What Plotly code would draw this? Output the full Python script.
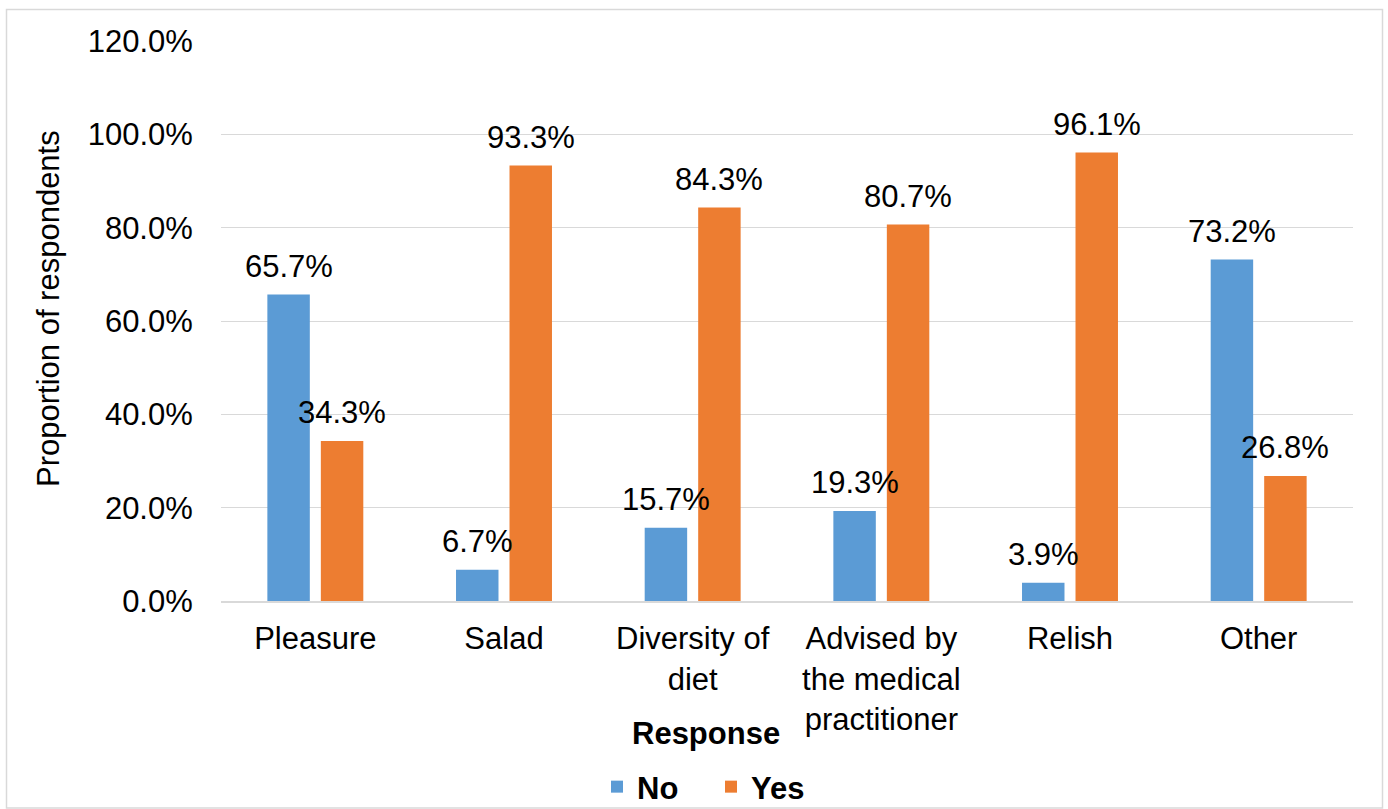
import plotly.graph_objects as go

categories = ["Pleasure", "Salad", "Diversity of<br>diet", "Advised by<br>the medical<br>practitioner", "Relish", "Other"]
no_values = [65.7, 6.7, 15.7, 19.3, 3.9, 73.2]
yes_values = [34.3, 93.3, 84.3, 80.7, 96.1, 26.8]
y_ticks = [0, 20, 40, 60, 80, 100, 120]

FONT = "Arial, Liberation Sans, sans-serif"
FS = 31
BLUE = "#5B9BD5"
ORANGE = "#ED7D31"

L, R, T, B = 221, 35, 41, 208
W, H = 1388, 809
pw, ph = W - L - R, H - T - B

def px_x(px):
    return (px - L) / pw

def px_y(py):
    return (H - B - py) / ph

fig = go.Figure()
fig.add_trace(go.Bar(name="No", x=categories, y=no_values, marker_color=BLUE, marker_line_width=0))
fig.add_trace(go.Bar(name="Yes", x=categories, y=yes_values, marker_color=ORANGE, marker_line_width=0))

annotations = []
for cat, v in zip(categories, no_values):
    annotations.append(dict(x=cat, y=v, xref="x", yref="y", text=f"{v:.1f}%", showarrow=False,
                            xshift=-26.75, yshift=28, yanchor="middle",
                            font=dict(family=FONT, size=FS, color="black")))
for cat, v in zip(categories, yes_values):
    annotations.append(dict(x=cat, y=v, xref="x", yref="y", text=f"{v:.1f}%", showarrow=False,
                            xshift=26.75, yshift=28, yanchor="middle",
                            font=dict(family=FONT, size=FS, color="black")))
annotations.append(dict(x=px_x(706), y=px_y(733), xref="paper", yref="paper", text="<b>Response</b>",
                        showarrow=False, xanchor="center", yanchor="middle",
                        font=dict(family=FONT, size=FS, color="black")))
annotations.append(dict(x=px_x(48), y=px_y(309), xref="paper", yref="paper", text="Proportion of respondents",
                        showarrow=False, xanchor="center", yanchor="middle", textangle=-90,
                        font=dict(family=FONT, size=FS, color="black")))

fig.update_layout(
    width=W, height=H,
    margin=dict(l=L, r=R, t=T, b=B, autoexpand=False),
    paper_bgcolor="white", plot_bgcolor="white",
    barmode="group", bargap=0.433, bargroupgap=0.206,
    font=dict(family=FONT, size=FS, color="black"),
    showlegend=True,
    legend=dict(orientation="h", x=px_x(711), y=px_y(787), xanchor="center", yanchor="middle",
                font=dict(family=FONT, size=FS, color="black", weight="bold"),
                itemwidth=30, entrywidth=69, bgcolor="rgba(0,0,0,0)"),
    annotations=annotations,
    shapes=[dict(type="rect", xref="paper", yref="paper",
                 x0=px_x(6.5), x1=px_x(1382.5), y0=px_y(808), y1=px_y(9.5),
                 line=dict(color="#d9d9d9", width=1.5), fillcolor="rgba(0,0,0,0)", layer="below")],
)

fig.update_xaxes(showgrid=False, showline=True, linecolor="#d9d9d9", linewidth=2,
                 ticks="outside", ticklen=9, tickcolor="rgba(0,0,0,0)",
                 tickfont=dict(family=FONT, size=FS, color="black"), tickangle=0)
fig.update_yaxes(range=[0, 120], tickvals=y_ticks, ticktext=[f"{t:.1f}%" for t in y_ticks],
                 showgrid=True, gridcolor="#d9d9d9", gridwidth=1.3, zeroline=False,
                 showline=False, ticks="outside", ticklen=21, tickcolor="rgba(0,0,0,0)",
                 tickfont=dict(family=FONT, size=FS, color="black"))

fig.write_html("out.html")
